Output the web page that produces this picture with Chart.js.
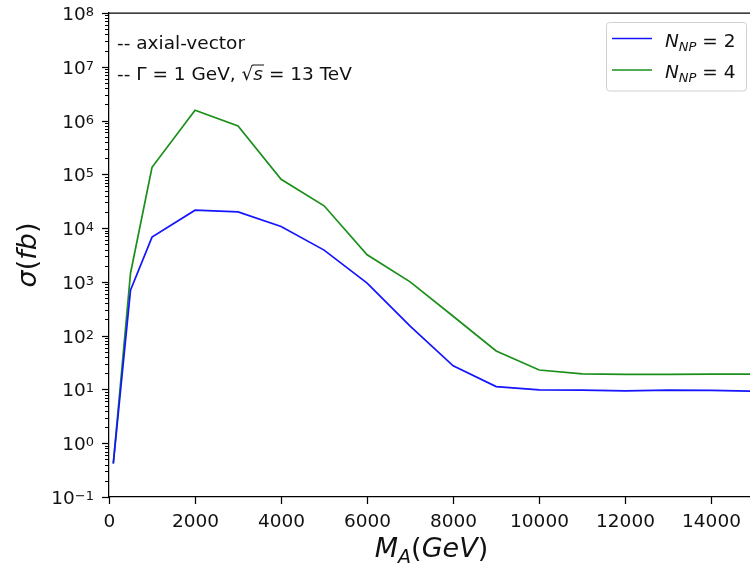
<!DOCTYPE html>
<html>
<head>
<meta charset="utf-8">
<title>axial-vector cross section</title>
<script src="https://cdn.jsdelivr.net/npm/chart.js@4.4.1/dist/chart.umd.min.js"></script>
<style>
  html, body { margin: 0; padding: 0; background: #fff; overflow: hidden; }
</style>
</head>
<body>
<canvas id="xsec" width="750" height="572"></canvas>
<script>
"use strict";

// mediator mass M_A in GeV
const masses = [100, 500, 1000, 2000, 3000, 4000, 5000, 6000, 7000, 8000, 9000, 10000, 11000, 12000, 13000, 14000, 15000];
// sigma in fb for the two N_NP choices
const sigmaNP2 = [0.42, 700, 6800, 21500, 20000, 10700, 3900, 950, 150, 27.5, 11.3, 9.8, 9.7, 9.4, 9.7, 9.6, 9.3];
const sigmaNP4 = [0.42, 1450, 135000, 1550000, 790000, 81000, 26000, 3200, 1000, 230, 52, 23, 19.5, 19.0, 19.0, 19.3, 19.3];

const nNP = ['2', '4'];
const lineColors = ['#1414ff', '#1a8f1a'];

const xTicks = [0, 2000, 4000, 6000, 8000, 10000, 12000, 14000];
const yExponents = [-1, 0, 1, 2, 3, 4, 5, 6, 7, 8];

const FONT = '"DejaVu Sans", "Liberation Sans", sans-serif';
const INK = '#111';

// draw a run of text pieces (for sub/superscripts), returns end x
function drawRun(ctx, parts, x, y, measureOnly) {
    for (const p of parts) {
        ctx.font = (p.it ? 'italic ' : '') + p.size + 'px ' + FONT;
        if (!measureOnly) ctx.fillText(p.t, x, y + (p.dy || 0));
        x += ctx.measureText(p.t).width;
    }
    return x;
}

function line(ctx, x1, y1, x2, y2, w, color) {
    ctx.beginPath();
    ctx.lineWidth = w;
    ctx.strokeStyle = color;
    ctx.moveTo(x1, y1);
    ctx.lineTo(x2, y2);
    ctx.stroke();
}

const axisDecor = {
    id: 'axisDecor',
    afterDraw(chart) {
        const ctx = chart.ctx;
        const area = chart.chartArea;
        const xs = chart.scales.x;
        const ys = chart.scales.y;

        ctx.save();
        ctx.fillStyle = INK;
        ctx.textBaseline = 'alphabetic';

        // top spine
        line(ctx, area.left, area.top, area.right, area.top, 1.25, '#000');

        // x ticks and labels
        ctx.textAlign = 'center';
        ctx.font = '18.5px ' + FONT;
        xTicks.forEach(v => {
            const px = Math.round(xs.getPixelForValue(v)) + 0.5;
            line(ctx, px, area.bottom, px, area.bottom + 7, 1.25, '#000');
            ctx.fillText(String(v), px, area.bottom + 30);
        });

        // y ticks: decades plus 2..9 minors
        ctx.textAlign = 'left';
        yExponents.forEach(e => {
            const py = ys.getPixelForValue(Math.pow(10, e));
            const pyA = Math.round(py) + 0.5;
            line(ctx, area.left - 7, pyA, area.left, pyA, 1.25, '#000');
            if (e < 8) {
                for (let m = 2; m <= 9; m++) {
                    const pm = Math.round(ys.getPixelForValue(m * Math.pow(10, e))) + 0.5;
                    line(ctx, area.left - 4, pm, area.left, pm, 1, '#000');
                }
            }
            const expText = e < 0 ? '\u2212' + Math.abs(e) : String(e);
            const parts = [
                { t: '10', size: 18.5 },
                { t: expText, size: 13, dy: -4 }
            ];
            const w = drawRun(ctx, parts, 0, 0, true);
            drawRun(ctx, parts, area.left - 15 - w, py + 7);
        });

        // axis titles
        const xTitle = [
            { t: 'M', size: 27, it: true },
            { t: 'A', size: 19, it: true, dy: 6 },
            { t: '(', size: 27 },
            { t: 'GeV', size: 27, it: true },
            { t: ')', size: 27 }
        ];
        const xw = drawRun(ctx, xTitle, 0, 0, true);
        drawRun(ctx, xTitle, (area.left + area.right) / 2 - xw / 2 + 2, 557);

        const yTitle = [
            { t: '\u03c3', size: 27, it: true },
            { t: '(', size: 27 },
            { t: 'fb', size: 27, it: true },
            { t: ')', size: 27 }
        ];
        const yw = drawRun(ctx, yTitle, 0, 0, true);
        ctx.save();
        ctx.translate(36, (area.top + area.bottom) / 2);
        ctx.rotate(-Math.PI / 2);
        drawRun(ctx, yTitle, -yw / 2, 0);
        ctx.restore();

        // notes in the upper left corner
        const nx = area.left + 8;
        ctx.font = '18.5px ' + FONT;
        ctx.fillText('-- axial-vector', nx, 49);
        let cx = drawRun(ctx, [{ t: '-- \u0393 = 1 GeV, ', size: 18.5 }], nx, 80);
        const rootEnd = drawRun(ctx, [{ t: '\u221a', size: 18.5 }], cx, 80);
        const sEnd = drawRun(ctx, [{ t: 's', size: 18.5, it: true }], rootEnd, 80);
        line(ctx, rootEnd - 1, 80 - 15, sEnd + 1, 80 - 15, 1, INK);
        drawRun(ctx, [{ t: ' = 13 TeV', size: 18.5 }], sEnd, 80);

        // legend
        const bx = 606, by = 22, bw = 140, bh = 68.5;
        ctx.beginPath();
        ctx.roundRect(bx + 0.5, by + 0.5, bw, bh, 3);
        ctx.fillStyle = 'rgba(255,255,255,0.8)';
        ctx.fill();
        ctx.lineWidth = 1;
        ctx.strokeStyle = '#d0d0d0';
        ctx.stroke();
        ctx.fillStyle = INK;
        nNP.forEach((n, i) => {
            const ly = 38.5 + i * 31.5;
            line(ctx, 612, ly, 652, ly, 1.7, lineColors[i]);
            drawRun(ctx, [
                { t: 'N', size: 18.5, it: true },
                { t: 'NP', size: 13, it: true, dy: 4 },
                { t: ' = ' + n, size: 18.5 }
            ], 665, ly + 8);
        });

        ctx.restore();
    }
};

const ctx = document.getElementById('xsec').getContext('2d');

new Chart(ctx, {
    type: 'line',
    data: {
        datasets: [sigmaNP2, sigmaNP4].map((vals, i) => ({
            label: 'N_NP = ' + nNP[i],
            data: masses.map((m, j) => ({ x: m, y: vals[j] })),
            borderColor: lineColors[i],
            borderWidth: 1.7,
            pointRadius: 0,
            tension: 0,
            fill: false
        }))
    },
    options: {
        responsive: false,
        animation: false,
        devicePixelRatio: 1,
        layout: { padding: { top: 13, left: 0, right: 0, bottom: 0 } },
        plugins: {
            legend: { display: false },
            tooltip: { enabled: false }
        },
        scales: {
            x: {
                type: 'linear',
                min: 0,
                max: 14900,
                ticks: { display: false },
                grid: { display: false },
                border: { display: true, color: '#000', width: 1.25 },
                afterFit: s => { s.height = 75; }
            },
            y: {
                type: 'logarithmic',
                min: 0.1,
                max: 1e8,
                ticks: { display: false },
                grid: { display: false },
                border: { display: true, color: '#000', width: 1.25 },
                afterFit: s => { s.width = 109; }
            }
        }
    },
    plugins: [axisDecor]
});
</script>
</body>
</html>
